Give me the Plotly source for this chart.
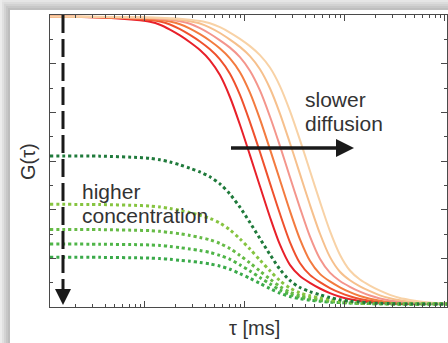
import math
import plotly.graph_objects as go

# ---------------- data ----------------
# lag times (ms)
tau_ms = [0.001122, 0.003548, 0.008913, 0.01122, 0.01413, 0.01778, 0.02239, 0.02818,
          0.03548, 0.04467, 0.05623, 0.07079, 0.08913, 0.1122, 0.1413, 0.1778, 0.2239,
          0.2818, 0.3548, 0.4467, 0.5623, 0.7079, 0.8913, 1.122, 1.413, 1.778, 2.239,
          2.818, 3.548, 4.467, 5.623, 7.079, 8.913, 10.72]

# solid curves (slower diffusion, left -> right)
g_red = [1.194, 1.190, 1.178, 1.172, 1.160, 1.140, 1.116, 1.088, 1.056, 1.014, 0.953, 0.863,
         0.749, 0.624, 0.496, 0.370, 0.256, 0.173, 0.127, 0.099, 0.076, 0.057, 0.042, 0.032,
         0.025, 0.020, 0.017, 0.014, 0.013, 0.012, 0.012, 0.012, 0.012, 0.012]
g_redorange = [1.194, 1.191, 1.183, 1.179, 1.173, 1.161, 1.142, 1.118, 1.091, 1.059, 1.018, 0.959,
               0.872, 0.760, 0.637, 0.509, 0.383, 0.267, 0.181, 0.132, 0.102, 0.078, 0.059, 0.044,
               0.033, 0.026, 0.021, 0.017, 0.014, 0.013, 0.012, 0.012, 0.012, 0.012]
g_orange = [1.194, 1.191, 1.186, 1.184, 1.179, 1.173, 1.162, 1.144, 1.121, 1.094, 1.062, 1.022,
            0.965, 0.881, 0.772, 0.649, 0.522, 0.395, 0.279, 0.190, 0.136, 0.105, 0.081, 0.061,
            0.045, 0.034, 0.026, 0.021, 0.018, 0.015, 0.013, 0.012, 0.012, 0.012]
g_salmon = [1.194, 1.192, 1.188, 1.187, 1.184, 1.180, 1.174, 1.164, 1.146, 1.123, 1.096, 1.066,
            1.027, 0.971, 0.890, 0.783, 0.662, 0.534, 0.408, 0.290, 0.198, 0.141, 0.107, 0.083,
            0.063, 0.047, 0.035, 0.027, 0.022, 0.018, 0.015, 0.013, 0.012, 0.012]
g_peach = [1.194, 1.192, 1.190, 1.189, 1.187, 1.184, 1.180, 1.174, 1.165, 1.148, 1.126, 1.099,
           1.069, 1.031, 0.977, 0.899, 0.795, 0.674, 0.547, 0.420, 0.302, 0.206, 0.145, 0.110,
           0.085, 0.065, 0.048, 0.036, 0.028, 0.022, 0.018, 0.015, 0.013, 0.013]
g_lightpeach = [1.194, 1.193, 1.191, 1.190, 1.189, 1.187, 1.185, 1.181, 1.175, 1.166, 1.150, 1.128,
                1.102, 1.072, 1.035, 0.984, 0.908, 0.806, 0.687, 0.560, 0.433, 0.313, 0.215, 0.150,
                0.113, 0.088, 0.067, 0.050, 0.037, 0.029, 0.023, 0.019, 0.016, 0.014]

# dotted curves (higher concentration, top -> bottom)
g_green1 = [0.621, 0.620, 0.614, 0.611, 0.605, 0.596, 0.584, 0.570, 0.555, 0.535, 0.506, 0.464,
            0.410, 0.347, 0.281, 0.216, 0.155, 0.109, 0.080, 0.063, 0.050, 0.039, 0.030, 0.024,
            0.020, 0.017, 0.015, 0.014, 0.013, 0.012, 0.012, 0.012, 0.012, 0.012]
g_green2 = [0.422, 0.421, 0.417, 0.415, 0.411, 0.405, 0.397, 0.388, 0.377, 0.364, 0.345, 0.317,
            0.280, 0.238, 0.193, 0.149, 0.108, 0.078, 0.058, 0.046, 0.037, 0.030, 0.024, 0.020,
            0.017, 0.015, 0.014, 0.013, 0.012, 0.012, 0.012, 0.012, 0.012, 0.012]
g_green3 = [0.319, 0.318, 0.315, 0.314, 0.311, 0.306, 0.301, 0.294, 0.286, 0.276, 0.261, 0.240,
            0.212, 0.181, 0.148, 0.115, 0.084, 0.061, 0.046, 0.038, 0.031, 0.026, 0.021, 0.018,
            0.016, 0.014, 0.014, 0.013, 0.012, 0.012, 0.012, 0.012, 0.012, 0.012]
g_green4 = [0.259, 0.258, 0.256, 0.255, 0.253, 0.249, 0.244, 0.238, 0.232, 0.224, 0.212, 0.196,
            0.173, 0.148, 0.121, 0.095, 0.070, 0.052, 0.040, 0.033, 0.027, 0.023, 0.019, 0.017,
            0.015, 0.014, 0.013, 0.013, 0.012, 0.012, 0.012, 0.012, 0.012, 0.012]
g_green5 = [0.204, 0.204, 0.202, 0.201, 0.199, 0.196, 0.192, 0.188, 0.183, 0.177, 0.168, 0.155,
            0.137, 0.118, 0.097, 0.076, 0.057, 0.043, 0.034, 0.028, 0.024, 0.020, 0.018, 0.016,
            0.015, 0.014, 0.013, 0.013, 0.012, 0.012, 0.012, 0.012, 0.012, 0.012]

solid_colors = ['#e8202a', '#ef512d', '#f37b3f', '#f4958c', '#f6c08d', '#f8d2a6']
green_colors = ['#1f7a3b', '#86c440', '#66bb46', '#4fb548', '#3aaa4a']

x_decades = [0.001, 0.01, 0.1, 1, 10]
x_minor_mult = [2, 3, 4, 5, 6, 7, 8, 9]
y_major = [0, 0.2, 0.4, 0.6, 0.8, 1.0, 1.2]
y_minor = [0.1, 0.3, 0.5, 0.7, 0.9, 1.1]

# ---------------- layout helpers ----------------
W, H = 448, 343
ML, MR, MT, MB = 50, 1, 15, 36
FONT = "Liberation Sans, Arial, Helvetica, sans-serif"
TXT = '#333333'
AX = '#4a4a4a'


def px(x):
    return (x - ML) / (W - ML - MR)


def py(y):
    return (H - MB - y) / (H - MT - MB)


fig = go.Figure()
for vals, col in zip([g_red, g_redorange, g_orange, g_salmon, g_peach, g_lightpeach], solid_colors):
    fig.add_trace(go.Scatter(x=tau_ms, y=vals, mode='lines',
                             line=dict(color=col, width=2, shape='spline', smoothing=0.8),
                             hoverinfo='skip'))
for vals, col in zip([g_green5, g_green4, g_green3, g_green2, g_green1], green_colors[::-1]):
    fig.add_trace(go.Scatter(x=tau_ms, y=vals, mode='lines',
                             line=dict(color=col, width=3, dash='dot', shape='spline', smoothing=0.8),
                             hoverinfo='skip'))

x_minor = [m * d for d in x_decades for m in x_minor_mult]

shapes = []
# window shadow (top / left)
top_cols = ['#e6e6e6', '#dcdcdc', '#d2d2d2', '#c8c8c8', '#bfbfbf']
for i, c in enumerate(top_cols):
    shapes.append(dict(type='rect', xref='paper', yref='paper', layer='below',
                       x0=px(0), x1=px(W), y0=py(2 * i), y1=py(2 * i + 2),
                       fillcolor=c, line=dict(width=0)))
left_cols = ['#ececec', '#e0e0e0', '#d3d3d3', '#c7c7c7', '#bdbdbd']
for i, c in enumerate(left_cols):
    shapes.append(dict(type='rect', xref='paper', yref='paper', layer='below',
                       x0=px(2 * i), x1=px(2 * i + 2), y0=py(2 * i), y1=py(H),
                       fillcolor=c, line=dict(width=0)))

# vertical dashed arrow (higher concentration)
shapes.append(dict(type='line', xref='paper', yref='paper',
                   x0=px(63), x1=px(63), y0=py(15), y1=py(291),
                   line=dict(color='#1a1a1a', width=3, dash='18px,6px')))
shapes.append(dict(type='path', xref='paper', yref='paper',
                   path=f'M {px(55)},{py(289)} L {px(71)},{py(289)} L {px(63)},{py(305)} Z',
                   fillcolor='#1a1a1a', line=dict(width=0)))
# horizontal arrow (slower diffusion)
shapes.append(dict(type='line', xref='paper', yref='paper',
                   x0=px(231), x1=px(338), y0=py(148), y1=py(148),
                   line=dict(color='#1a1a1a', width=3.5)))
shapes.append(dict(type='path', xref='paper', yref='paper',
                   path=f'M {px(336)},{py(139)} L {px(354)},{py(148)} L {px(336)},{py(157)} Z',
                   fillcolor='#1a1a1a', line=dict(width=0)))


def ann(text, x, y, size=21, xanchor='left', angle=0):
    return dict(text=text, xref='paper', yref='paper', x=px(x), y=py(y), xanchor=xanchor,
                yanchor='middle', showarrow=False, textangle=angle,
                font=dict(family=FONT, size=size, color=TXT))


annotations = [
    ann('slower', 303, 99),
    ann('diffusion', 303, 123),
    ann('higher', 80, 191),
    ann('concentration', 80, 215),
    ann('τ [ms]', 254, 328, size=20, xanchor='center'),
    ann('G(τ)', 28, 162, size=20, xanchor='center', angle=-90),
]

fig.update_layout(
    width=W, height=H,
    margin=dict(l=ML, r=MR, t=MT, b=MB, pad=0),
    paper_bgcolor='white', plot_bgcolor='white',
    showlegend=False,
    hovermode=False,
    shapes=shapes, annotations=annotations,
    xaxis=dict(type='log', range=[math.log10(tau_ms[0]), math.log10(10.5)],
               showline=True, linecolor=AX, linewidth=1, mirror='ticks',
               ticks='inside', ticklen=6, tickwidth=1, tickcolor=AX,
               tickmode='array', tickvals=x_decades, showticklabels=False,
               showgrid=False, zeroline=False,
               minor=dict(ticks='inside', ticklen=3, tickwidth=1, tickcolor=AX,
                          tickmode='array', tickvals=x_minor, showgrid=False)),
    yaxis=dict(range=[0, 1.2], showline=True, linecolor=AX, linewidth=1, mirror='ticks',
               ticks='inside', ticklen=6, tickwidth=1, tickcolor=AX,
               tickmode='array', tickvals=y_major, showticklabels=False,
               showgrid=False, zeroline=False,
               minor=dict(ticks='inside', ticklen=3, tickwidth=1, tickcolor=AX,
                          tickmode='array', tickvals=y_minor, showgrid=False)),
)

fig.write_html("out.html", config={'displayModeBar': False, 'staticPlot': True},
               post_script="document.body.style.margin='0';document.body.style.overflow='hidden';")
